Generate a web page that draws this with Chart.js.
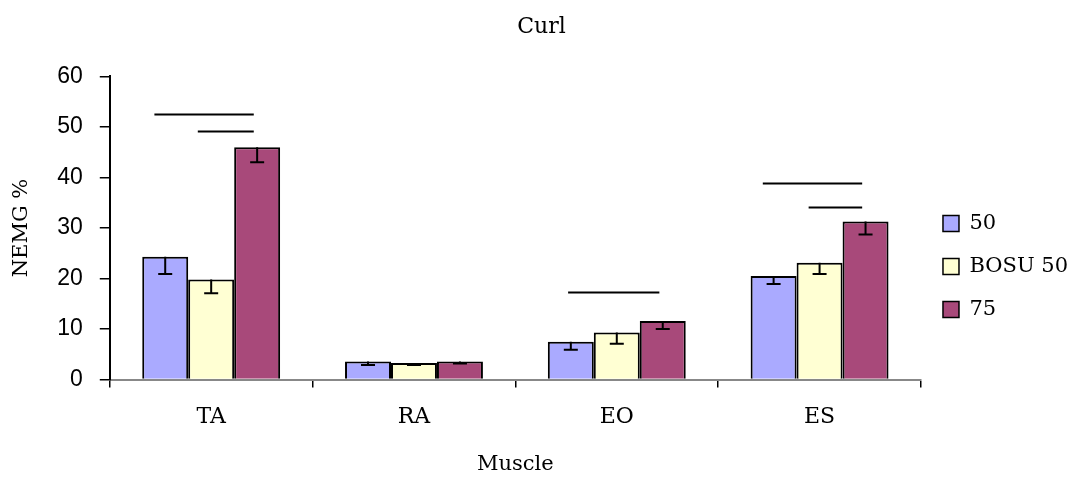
<!DOCTYPE html>
<html>
<head>
<meta charset="utf-8">
<script src="https://cdn.jsdelivr.net/npm/chart.js@4/dist/chart.umd.min.js"></script>
<style>
  html, body { margin: 0; padding: 0; background: #fff; }
  #wrap { width: 1078px; height: 477px; position: relative; }
</style>
</head>
<body>
<div id="wrap"><canvas id="chart"></canvas></div>
<script>
// Curl: NEMG % by muscle, three load conditions, one-sided error bars
const muscles = ['TA', 'RA', 'EO', 'ES'];
const seriesNames = ['50', 'BOSU 50', '75'];
const vals50 = [24.3, 3.6, 7.5, 20.5];
const valsBosu = [19.8, 3.3, 9.3, 23.1];
const vals75 = [46.0, 3.6, 11.6, 31.3];
const err50 = [3.4, 0.7, 1.6, 1.6];
const errBosu = [2.7, 0.4, 2.2, 2.2];
const err75 = [3.0, 0.4, 1.6, 2.6];
const yTicks = [0, 10, 20, 30, 40, 50, 60];
// significance bars: category index, start / end offset (in category widths), height
const sigCat = [0, 0, 2, 3, 3];
const sigFrom = [-0.28, -0.066, -0.24, -0.28, -0.054];
const sigTo = [0.21, 0.21, 0.21, 0.21, 0.21];
const sigY = [52.5, 49.1, 17.3, 39.0, 34.2];

const COLORS = ['#aaaaff', '#ffffd3', '#a8497a'];
const ERRS = [err50, errBosu, err75];

const serif = "'DejaVu Serif', 'Liberation Serif', serif";
const sans = "'Liberation Sans', Arial, sans-serif";

/* ---------- error bars + significance lines ---------- */
const extras = {
  id: 'extras',
  afterDatasetsDraw(chart) {
    const ctx = chart.ctx;
    const x = chart.scales.x, y = chart.scales.y;
    ctx.save();
    ctx.strokeStyle = '#000';
    ctx.lineWidth = 2;
    chart.data.datasets.forEach((ds, i) => {
      const meta = chart.getDatasetMeta(i);
      meta.data.forEach((bar, j) => {
        const top = y.getPixelForValue(ds.data[j]);
        const bot = y.getPixelForValue(ds.data[j] - ERRS[i][j]);
        ctx.beginPath();
        ctx.moveTo(bar.x, top); ctx.lineTo(bar.x, bot);
        ctx.moveTo(bar.x - 7, bot); ctx.lineTo(bar.x + 7, bot);
        ctx.stroke();
      });
    });
    const catW = x.getPixelForValue(1) - x.getPixelForValue(0);
    sigCat.forEach((c, k) => {
      const cx = x.getPixelForValue(c);
      const py = Math.round(y.getPixelForValue(sigY[k])) + 0.5;
      ctx.beginPath();
      ctx.moveTo(cx + sigFrom[k] * catW, py);
      ctx.lineTo(cx + sigTo[k] * catW, py);
      ctx.stroke();
    });
    ctx.restore();
  }
};

new Chart(document.getElementById('chart'), {
  type: 'bar',
  data: {
    labels: muscles,
    datasets: [vals50, valsBosu, vals75].map((d, i) => ({
      label: seriesNames[i],
      data: d,
      backgroundColor: COLORS[i],
      borderColor: '#000',
      borderWidth: 2,
      categoryPercentage: 0.68,
      barPercentage: 1
    }))
  },
  options: {
    responsive: true,
    maintainAspectRatio: false,
    animation: false,
    layout: { padding: { left: 5, right: 0, top: 6, bottom: 2 } },
    plugins: {
      title: {
        display: true, text: 'Curl', color: '#000',
        font: { family: serif, size: 22, weight: 'normal' },
        padding: { top: 8, bottom: 36 }
      },
      legend: {
        position: 'right',
        title: { display: true, text: '', font: { size: 10 }, padding: { top: 0, bottom: 40 } },
        labels: {
          color: '#000', boxWidth: 16, boxHeight: 16, padding: 22,
          font: { family: serif, size: 21 },
          generateLabels(chart) {
            return chart.data.datasets.map((ds, i) => ({
              text: ds.label, fillStyle: COLORS[i], strokeStyle: '#000',
              fontColor: '#000', lineWidth: 1.5, datasetIndex: i
            }));
          }
        }
      },
      tooltip: { enabled: false }
    },
    scales: {
      x: {
        offset: true,
        grid: { offset: true, drawOnChartArea: false, tickLength: 8, color: '#000', lineWidth: 1.5 },
        border: { color: '#888', width: 2 },
        ticks: { color: '#000', font: { family: serif, size: 22 }, padding: 16 },
        title: { display: true, text: 'Muscle', color: '#000', font: { family: serif, size: 21, lineHeight: 1 }, padding: { top: 8, bottom: 0 } }
      },
      y: {
        min: 0, max: 60,
        afterBuildTicks(axis) { axis.ticks = yTicks.map(v => ({ value: v })); },
        grid: { drawOnChartArea: false, tickLength: 10, color: '#000', lineWidth: 1.5 },
        border: { color: '#000', width: 2 },
        ticks: { color: '#000', font: { family: sans, size: 23 }, padding: 17 },
        title: { display: true, text: 'NEMG %', color: '#000', font: { family: serif, size: 21 }, padding: { top: 4, bottom: 6 } }
      }
    }
  },
  plugins: [extras]
});
</script>
</body>
</html>
